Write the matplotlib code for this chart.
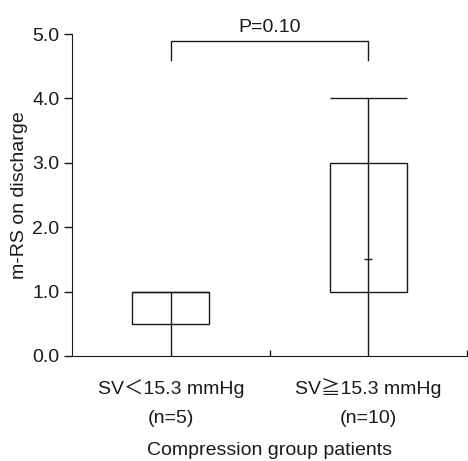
import matplotlib.pyplot as plt
from matplotlib.patches import Rectangle

plt.rcParams['font.family'] = ['Liberation Sans', 'Noto Sans CJK JP', 'DejaVu Sans']

# data
group_names = ['SV＜15.3 mmHg', 'SV≧15.3 mmHg']
group_n = ['(n=5)', '(n=10)']
positions = [0.5, 1.5]
q1 = [0.5, 1.0]
q3 = [1.0, 3.0]
median = [None, 1.5]
wlo = [0.0, 0.0]
whi = [1.0, 4.0]
p_text = 'P=0.10'

ink = '#1a1a1a'
w = 0.39

fig = plt.figure(figsize=(4.68, 4.61), dpi=100)
ax = fig.add_axes([0.154, 0.228, 0.844, 0.698])

for i, x in enumerate(positions):
    ax.vlines(x, wlo[i], whi[i], color=ink, lw=1.0)
    ax.add_patch(Rectangle((x - w / 2, q1[i]), w, q3[i] - q1[i],
                           fill=False, edgecolor=ink, lw=1.0))
    ax.hlines(whi[i], x - w / 2, x + w / 2, color=ink, lw=1.0)
    if median[i] is not None:
        ax.hlines(median[i], x - 0.02, x + 0.02, color=ink, lw=1.0)

# significance bracket
ax.plot([positions[0], positions[0], positions[1], positions[1]],
        [4.6, 4.9, 4.9, 4.6], color=ink, lw=1.0)
ax.text(sum(positions) / 2, 5.03, p_text, ha='center', va='baseline',
        fontsize=14, color=ink)

ax.set_xlim(0, 2)
ax.set_ylim(0, 5)
ax.spines['top'].set_visible(False)
ax.spines['right'].set_visible(False)
ax.spines['left'].set_color(ink)
ax.spines['bottom'].set_color(ink)

ax.set_yticks([0, 1, 2, 3, 4, 5])
ax.set_yticklabels(['0.0', '1.0', '2.0', '3.0', '4.0', '5.0'])
ax.tick_params(axis='y', direction='out', length=6, width=1.0,
               labelsize=14, colors=ink, pad=3)

# group labels, two lines each, on fixed baselines
ax.set_xticks([])
ax.set_xticks([1, 2], minor=True)
ax.tick_params(axis='x', which='minor', direction='in', length=4,
               width=1.0, colors=ink, labelbottom=False)
tr = ax.get_xaxis_transform()
for x, name, n in zip(positions, group_names, group_n):
    ax.text(x, -0.118, name, transform=tr, ha='center', va='baseline',
            fontsize=14, color=ink)
    ax.text(x, -0.208, n, transform=tr, ha='center', va='baseline',
            fontsize=14, color=ink)
ax.text(1.0, -0.308, 'Compression group patients', transform=tr,
        ha='center', va='baseline', fontsize=14, color=ink)

ax.set_ylabel('m-RS on discharge', fontsize=14, color=ink, labelpad=3)

fig.savefig('out.png', dpi=100)
